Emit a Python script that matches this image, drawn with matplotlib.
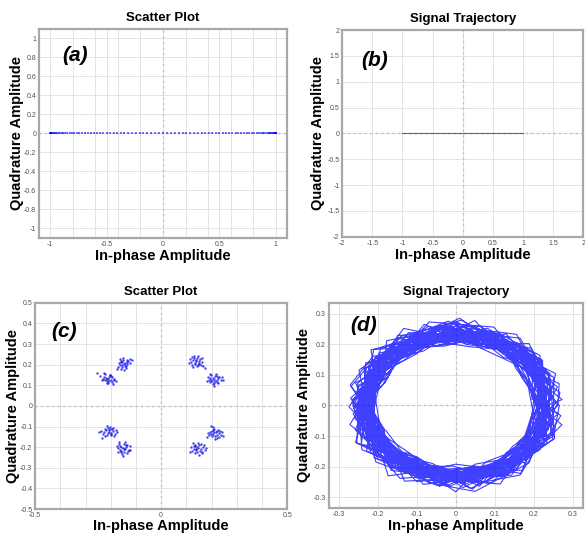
#!/usr/bin/env python3
"""Scatter plots and signal trajectories of an unmodulated and a QPSK-like signal."""

from __future__ import annotations

from pathlib import Path

import matplotlib

matplotlib.use("Agg")
import matplotlib.pyplot as plt
import numpy as np

# (a) scatter plot: samples lying on the in-phase axis
SCATTER_A_I = [
    1.000, 0.999, 0.998, 0.995, 0.990, 0.985, 0.978, 0.970, 0.961, 0.951,
    0.940, 0.927, 0.914, 0.899, 0.883, 0.866, 0.848, 0.829, 0.809, 0.788,
    0.766, 0.743, 0.719, 0.695, 0.669, 0.643, 0.616, 0.588, 0.559, 0.530,
    0.500, 0.469, 0.438, 0.407, 0.375, 0.342, 0.309, 0.276, 0.242, 0.208,
    0.174, 0.139, 0.105, 0.070, 0.035, 0.000,
    -0.035, -0.070, -0.105, -0.139, -0.174, -0.208, -0.242, -0.276, -0.309,
    -0.342, -0.375, -0.407, -0.438, -0.469, -0.500, -0.530, -0.559, -0.588,
    -0.616, -0.643, -0.669, -0.695, -0.719, -0.743, -0.766, -0.788, -0.809,
    -0.829, -0.848, -0.866, -0.883, -0.899, -0.914, -0.927, -0.940, -0.951,
    -0.961, -0.970, -0.978, -0.985, -0.990, -0.995, -0.998, -0.999, -1.000,
]
SCATTER_A_Q = [0.0] * len(SCATTER_A_I)

# (b) trajectory: a straight segment on the in-phase axis
TRAJ_B_I = [-1.0, 1.0]
TRAJ_B_Q = [0.0, 0.0]

# (c) scatter plot: eight clusters of received samples
SCATTER_C_I = [
    # upper left, inner
    -0.210, -0.225, -0.198, -0.216, -0.203, -0.231, -0.189, -0.221, -0.208,
    -0.194, -0.236, -0.213, -0.200, -0.227, -0.186, -0.218, -0.205, -0.242,
    -0.196, -0.211, -0.224, -0.179, -0.255, -0.202, -0.215, -0.192,
    # upper left, outer
    -0.147, -0.160, -0.136, -0.155, -0.141, -0.167, -0.130, -0.152, -0.144,
    -0.163, -0.125, -0.158, -0.139, -0.171, -0.150, -0.134, -0.154, -0.122,
    -0.161, -0.143, -0.174, -0.137, -0.156, -0.115, -0.148, -0.165,
    # upper right, outer
    0.138, 0.126, 0.149, 0.133, 0.155, 0.120, 0.144, 0.158, 0.129,
    0.141, 0.115, 0.152, 0.135, 0.163, 0.124, 0.147, 0.167, 0.131,
    0.110, 0.150, 0.137, 0.160, 0.127, 0.173, 0.122, 0.145,
    # upper right, inner
    0.208, 0.195, 0.220, 0.201, 0.215, 0.226, 0.189, 0.211, 0.198,
    0.223, 0.231, 0.204, 0.192, 0.217, 0.185, 0.213, 0.236, 0.206,
    0.221, 0.181, 0.241, 0.199, 0.227, 0.194, 0.210, 0.247,
    # lower left, inner
    -0.205, -0.218, -0.195, -0.212, -0.200, -0.226, -0.190, -0.210, -0.198,
    -0.221, -0.185, -0.232, -0.203, -0.215, -0.193, -0.237, -0.207, -0.188,
    -0.223, -0.181, -0.245, -0.197, -0.213, -0.177, -0.234, -0.201,
    # lower left, outer
    -0.152, -0.164, -0.142, -0.158, -0.137, -0.170, -0.147, -0.133, -0.161,
    -0.149, -0.166, -0.140, -0.155, -0.128, -0.172, -0.144, -0.125, -0.159,
    -0.136, -0.176, -0.151, -0.122, -0.163, -0.146, -0.168, -0.139,
    # lower right, inner
    0.211, 0.199, 0.223, 0.206, 0.220, 0.231, 0.195, 0.215, 0.203,
    0.226, 0.236, 0.209, 0.191, 0.222, 0.200, 0.217, 0.241, 0.187,
    0.228, 0.207, 0.205, 0.246, 0.182, 0.233, 0.212, 0.197,
    # lower right, outer
    0.148, 0.136, 0.159, 0.139, 0.152, 0.129, 0.164, 0.144, 0.155,
    0.133, 0.168, 0.124, 0.147, 0.160, 0.141, 0.119, 0.172, 0.135,
    0.156, 0.127, 0.177, 0.115, 0.150, 0.138, 0.163, 0.131,
]
SCATTER_C_Q = [
    0.133, 0.140, 0.128, 0.121, 0.149, 0.133, 0.126, 0.154, 0.139,
    0.117, 0.128, 0.110, 0.144, 0.160, 0.131, 0.137, 0.123, 0.145,
    0.139, 0.113, 0.125, 0.119, 0.162, 0.150, 0.130, 0.106,
    0.203, 0.215, 0.213, 0.190, 0.196, 0.208, 0.219, 0.224, 0.207,
    0.197, 0.227, 0.181, 0.186, 0.191, 0.233, 0.202, 0.212, 0.210,
    0.220, 0.193, 0.179, 0.222, 0.201, 0.225, 0.175, 0.229,
    0.218, 0.224, 0.209, 0.202, 0.227, 0.213, 0.235, 0.201, 0.231,
    0.194, 0.229, 0.220, 0.210, 0.212, 0.198, 0.240, 0.193, 0.243,
    0.207, 0.205, 0.225, 0.233, 0.190, 0.185, 0.237, 0.200,
    0.132, 0.138, 0.126, 0.119, 0.144, 0.135, 0.127, 0.113, 0.149,
    0.117, 0.141, 0.136, 0.114, 0.153, 0.142, 0.122, 0.128, 0.105,
    0.147, 0.119, 0.139, 0.125, 0.110, 0.157, 0.098, 0.124,
    -0.124, -0.117, -0.114, -0.133, -0.137, -0.127, -0.121, -0.107, -0.129,
    -0.111, -0.134, -0.138, -0.103, -0.142, -0.109, -0.120, -0.118, -0.144,
    -0.146, -0.117, -0.125, -0.139, -0.099, -0.127, -0.156, -0.112,
    -0.202, -0.194, -0.210, -0.217, -0.191, -0.205, -0.183, -0.219, -0.225,
    -0.208, -0.186, -0.199, -0.233, -0.212, -0.221, -0.177, -0.194, -0.197,
    -0.228, -0.192, -0.241, -0.215, -0.212, -0.223, -0.175, -0.189,
    -0.128, -0.137, -0.121, -0.117, -0.142, -0.133, -0.126, -0.148, -0.145,
    -0.115, -0.139, -0.110, -0.142, -0.154, -0.120, -0.125, -0.127, -0.130,
    -0.150, -0.136, -0.104, -0.144, -0.149, -0.119, -0.162, -0.099,
    -0.203, -0.195, -0.209, -0.215, -0.189, -0.207, -0.198, -0.223, -0.218,
    -0.187, -0.188, -0.218, -0.179, -0.227, -0.199, -0.197, -0.213, -0.230,
    -0.183, -0.179, -0.206, -0.224, -0.236, -0.209, -0.221, -0.192,
]

# (d) trajectory: vertices read as angle (degrees) and radius (x1000),
# one row per revolution
TRAJ_D_ANGLE_DEG = [
    0, 33, 58, 91, 118, 152, 177, 213, 238, 272, 299, 333,
    15, 49, 75, 109, 137, 164, 199, 225, 257, 289, 314, 349,
    10, 36, 70, 97, 131, 155, 190, 214, 250, 277, 310, 336,
    25, 51, 84, 112, 141, 171, 201, 232, 260, 295, 321, 354,
    2, 37, 63, 96, 122, 158, 181, 216, 246, 273, 306, 331,
    16, 42, 75, 101, 136, 161, 193, 222, 255, 281, 316, 342,
    26, 59, 85, 119, 145, 178, 205, 239, 264, 299, 325, 358,
    5, 30, 64, 90, 124, 149, 184, 210, 245, 269, 304, 329,
    17, 52, 77, 112, 136, 170, 197, 231, 256, 290, 318, 350,
    14, 40, 73, 99, 133, 158, 193, 219, 253, 278, 312, 339,
    22, 57, 83, 117, 143, 178, 202, 236, 264, 297, 322, 357,
    8, 34, 68, 93, 128, 152, 188, 213, 248, 274, 307, 334,
    13, 48, 72, 107, 134, 167, 193, 228, 252, 288, 313, 347,
    31, 57, 91, 116, 152, 176, 211, 236, 270, 296, 330, 356,
    358, 34, 59, 94, 119, 153, 178, 213, 239, 272, 299, 333,
    23, 49, 84, 108, 143, 168, 202, 229, 263, 289, 323, 348,
    6, 41, 66, 101, 127, 161, 186, 221, 247, 281, 307, 341,
    27, 52, 86, 111, 146, 172, 206, 231, 266, 292, 326, 351,
    11, 46, 72, 106, 131, 166, 192, 226, 251, 286, 312, 346,
    6, 31, 65, 90, 125, 151, 186, 210, 245, 271, 305, 331,
    16, 51, 76, 110, 136, 171, 195, 230, 255, 290, 316, 351,
    10, 35, 69, 94, 129, 155, 189, 215, 249, 274, 309, 335,
    24, 58, 84, 119, 143, 178, 203, 238, 265, 298, 323, 358,
    15, 40, 74, 99, 134, 160, 194, 219, 254, 280, 314, 339,
    18, 53, 78, 113, 139, 173, 197, 233, 258, 292, 318, 353,
    8, 33, 67, 92, 127, 153, 187, 212, 247, 273, 307, 332,
    26, 61, 86, 121, 146, 181, 207, 241, 266, 300, 326, 1,
    19, 44, 78, 103, 138, 164, 198, 223, 258, 284, 318, 343,
    11, 36, 73, 98, 132, 155, 190, 217, 253, 276, 311, 338,
    20, 55, 81, 116, 139, 174, 198, 233, 260, 295, 318, 354,
    5, 30, 67, 92, 126, 149, 184, 211, 247, 270, 305, 332,
    12, 47, 73, 108, 131, 166, 190, 225, 252, 287, 310, 346,
    29, 54, 91, 116, 150, 173, 208, 235, 271, 294, 329, 356,
    4, 39, 65, 100, 123, 158, 182, 217, 244, 279, 302, 338,
    20, 45, 82, 107, 141, 164, 199, 226, 262, 285, 320, 347,
    359, 34, 60, 95, 118, 153, 177, 212, 239, 274, 297, 333,
    27, 52, 89, 114, 148, 171, 206, 233, 269, 292, 327, 354,
    9, 44, 70, 105, 128, 163, 187, 222, 249, 284, 307, 343,
    22, 47, 84, 109, 143, 166, 201, 228, 264, 287, 322, 349,
    2, 37, 63, 98, 121, 156, 180, 215, 242, 277, 300, 336,
    18, 43, 80, 105, 139, 162, 197, 224, 260, 283, 318, 345,
    27, 62, 88, 123, 146, 181, 205, 240, 267, 302, 325, 1,
    9, 34, 71, 96, 130, 153, 188, 215, 251, 274, 309, 336,
    21, 56, 82, 117, 140, 175, 199, 234, 261, 296, 319, 355,
    14, 39, 76, 101, 135, 158, 193, 220, 256, 279, 314, 341,
    0, 35, 61, 96, 119, 154, 178, 213, 240, 275, 298, 334,
    28, 53, 90, 115, 149, 172, 207, 234, 270, 293, 328, 355,
    8, 43, 69, 104, 127, 162, 186, 221, 248, 283, 306, 342,
    23, 48, 85, 110, 144, 167, 202, 229, 265, 288, 323, 350,
    3, 38, 64, 99, 122, 157, 181, 216, 243, 278, 301, 337,
    19, 44, 81, 106, 140, 163, 198, 225, 261, 284, 319, 346,
    26, 61, 87, 122, 145, 180, 204, 239, 266, 301, 324, 0,
    15, 40, 77, 102, 136, 159, 194, 221, 257, 280, 315, 342,
    358, 33, 59, 94, 117, 152, 176, 211, 238, 273, 296, 332,
    26, 51, 88, 113, 147, 170, 205, 232, 268, 291, 326, 353,
    6, 41, 67, 102, 125, 160, 184, 219, 246, 281, 304, 340,
]
TRAJ_D_RADIUS_MILLI = [
    241, 228, 252, 219, 236, 261, 230, 214, 247, 233, 258, 225,
    232, 255, 221, 243, 209, 238, 266, 227, 240, 216, 249, 236,
    248, 217, 239, 262, 226, 233, 212, 251, 229, 244, 222, 257,
    226, 243, 231, 210, 254, 240, 223, 269, 235, 218, 246, 231,
    259, 234, 213, 246, 228, 219, 250, 237, 206, 255, 234, 242,
    220, 247, 238, 257, 215, 244, 232, 222, 263, 230, 211, 249,
    237, 212, 261, 229, 248, 226, 284, 240, 218, 245, 238, 227,
    245, 239, 224, 236, 266, 211, 243, 256, 231, 224, 262, 219,
    214, 258, 233, 248, 223, 252, 218, 234, 246, 270, 228, 238,
    253, 226, 245, 215, 240, 235, 259, 213, 238, 229, 247, 264,
    233, 244, 218, 267, 231, 207, 237, 249, 225, 256, 219, 241,
    224, 262, 236, 227, 252, 243, 214, 231, 268, 236, 250, 216,
    268, 231, 249, 239, 212, 258, 229, 245, 221, 213, 237, 252,
    239, 218, 227, 254, 245, 230, 262, 224, 250, 243, 226, 234,
    211, 250, 242, 220, 237, 264, 226, 253, 216, 239, 261, 228,
    247, 236, 213, 244, 260, 221, 251, 208, 242, 227, 236, 255,
    230, 264, 250, 232, 219, 246, 235, 266, 229, 252, 214, 243,
    256, 221, 238, 249, 234, 214, 245, 239, 260, 218, 253, 231,
    222, 242, 265, 212, 251, 237, 220, 247, 233, 262, 240, 211,
    244, 230, 221, 258, 227, 255, 241, 228, 214, 235, 229, 259,
    236, 257, 232, 241, 268, 224, 210, 259, 244, 221, 248, 226,
    217, 234, 255, 226, 243, 232, 263, 235, 226, 254, 232, 245,
    262, 213, 241, 236, 220, 266, 233, 218, 251, 240, 217, 238,
    229, 249, 222, 263, 239, 215, 248, 242, 235, 209, 258, 230,
    250, 238, 260, 218, 247, 241, 224, 288, 212, 248, 243, 222,
    235, 222, 230, 251, 213, 250, 239, 226, 257, 233, 224, 265,
    242, 267, 216, 239, 255, 228, 216, 252, 240, 265, 230, 237,
    218, 245, 244, 230, 236, 262, 251, 233, 223, 242, 255, 228,
    205, 262, 238, 196, 251, 274, 227, 243, 199, 258, 231, 270,
    268, 221, 195, 247, 279, 234, 201, 255, 266, 213, 244, 225,
    229, 197, 256, 272, 218, 203, 249, 281, 236, 192, 263, 240,
    252, 276, 214, 229, 198, 261, 237, 207, 271, 248, 202, 257,
    193, 240, 267, 211, 256, 226, 275, 219, 245, 281, 221, 206,
    274, 208, 230, 259, 237, 196, 262, 248, 210, 233, 269, 245,
    236, 251, 201, 277, 212, 268, 205, 230, 259, 198, 252, 280,
    212, 267, 246, 222, 285, 241, 218, 264, 195, 269, 239, 214,
    260, 199, 273, 235, 204, 250, 283, 197, 242, 226, 207, 265,
    198, 245, 224, 268, 243, 209, 233, 276, 253, 204, 278, 232,
    277, 230, 209, 203, 266, 279, 214, 240, 226, 262, 215, 197,
    223, 271, 259, 244, 196, 232, 258, 211, 280, 239, 256, 273,
    246, 204, 282, 215, 261, 216, 270, 252, 203, 271, 198, 237,
    203, 259, 236, 273, 229, 257, 197, 225, 264, 218, 247, 261,
    271, 215, 198, 250, 276, 207, 244, 267, 234, 208, 273, 221,
    231, 280, 254, 206, 217, 271, 226, 196, 257, 252, 230, 199,
    194, 238, 266, 262, 244, 220, 279, 236, 211, 277, 205, 268,
    266, 210, 219, 239, 199, 253, 209, 273, 247, 223, 262, 242,
    240, 275, 245, 196, 270, 237, 251, 215, 282, 200, 236, 213,
    209, 227, 274, 281, 225, 200, 265, 241, 219, 260, 281, 250,
    263, 253, 206, 228, 258, 276, 199, 262, 239, 235, 213, 203,
    218, 196, 261, 254, 208, 243, 274, 221, 201, 274, 251, 276,
    257, 269, 227, 201, 284, 212, 231, 208, 268, 211, 242, 228,
    201, 234, 279, 266, 240, 264, 256, 278, 227, 246, 200, 262,
    275, 206, 240, 219, 215, 229, 203, 244, 262, 285, 266, 235,
    226, 266, 213, 276, 254, 197, 267, 205, 246, 216, 226, 209,
    249, 221, 285, 241, 202, 260, 236, 257, 198, 249, 260, 272,
    197, 262, 252, 209, 267, 246, 213, 270, 253, 231, 210, 244,
]

BLUE = "#0000ff"
GRID = "#dedede"
FRAME = "#a8a8a8"
TICK_TEXT = "#505050"


def tick_text(value, _position):
    if abs(value) < 1e-9:
        return "0"
    return f"{value:g}"


def style_axes(axes, limit, grid_step, ticks, title, panel, panel_xy,
               xlabelpad=1, ylabelpad=2):
    axes.set_xticks(np.arange(-2.0, 2.0 + 1e-9, grid_step).round(3), minor=True)
    axes.set_yticks(np.arange(-2.0, 2.0 + 1e-9, grid_step).round(3), minor=True)
    axes.set_xticks(ticks[0])
    axes.set_yticks(ticks[1])
    axes.set_xlim(-limit[0], limit[0])
    axes.set_ylim(-limit[1], limit[1])
    axes.xaxis.set_major_formatter(plt.FuncFormatter(tick_text))
    axes.yaxis.set_major_formatter(plt.FuncFormatter(tick_text))
    axes.grid(True, which="both", color=GRID, linewidth=0.6)
    axes.set_axisbelow(True)
    axes.axhline(0, color="#c0c0c0", linestyle=(0, (1.5, 2.5)), linewidth=1.0, zorder=1)
    axes.axvline(0, color="#c0c0c0", linestyle=(0, (1.5, 2.5)), linewidth=1.0, zorder=1)
    axes.tick_params(which="both", length=0, labelsize=5, labelcolor=TICK_TEXT, pad=2)
    for spine in axes.spines.values():
        spine.set_color(FRAME)
        spine.set_linewidth(1.6)
    axes.set_title(title, fontsize=9.5, fontweight="bold", pad=6)
    axes.set_xlabel("In-phase Amplitude", fontsize=10.5, fontweight="bold",
                    labelpad=xlabelpad)
    axes.set_ylabel("Quadrature Amplitude", fontsize=10.5, fontweight="bold",
                    labelpad=ylabelpad)
    axes.text(
        panel_xy[0], panel_xy[1], panel, transform=axes.transAxes,
        fontsize=15, fontweight="bold", fontstyle="italic", va="center",
    )


def main() -> int:
    plt.rcParams["font.family"] = ["Liberation Sans", "DejaVu Sans"]

    figure = plt.figure(figsize=(5.85, 5.37), dpi=100)
    ax_a = figure.add_axes([0.0667, 0.557, 0.424, 0.389])
    ax_b = figure.add_axes([0.585, 0.559, 0.412, 0.385])
    ax_c = figure.add_axes([0.060, 0.052, 0.431, 0.384])
    ax_d = figure.add_axes([0.562, 0.054, 0.434, 0.382])

    style_axes(
        ax_a, (1.1, 1.1), 0.2,
        (np.arange(-1.0, 1.01, 0.5), np.arange(-1.0, 1.01, 0.2).round(2)),
        "Scatter Plot", "(a)", (0.095, 0.875), ylabelpad=0,
    )
    ax_a.scatter(SCATTER_A_I, SCATTER_A_Q, s=3, marker="s", color=BLUE,
                 alpha=0.55, linewidths=0, zorder=3)

    style_axes(
        ax_b, (2.0, 2.0), 0.5,
        (np.arange(-2.0, 2.01, 0.5), np.arange(-2.0, 2.01, 0.5)),
        "Signal Trajectory", "(b)", (0.08, 0.855),
    )
    ax_b.plot(TRAJ_B_I, TRAJ_B_Q, color=BLUE, linewidth=0.8, alpha=0.6, zorder=3)

    style_axes(
        ax_c, (0.5, 0.5), 0.1,
        (np.arange(-0.5, 0.51, 0.5), np.arange(-0.5, 0.51, 0.1).round(2)),
        "Scatter Plot", "(c)", (0.065, 0.86), xlabelpad=0, ylabelpad=0,
    )
    ax_c.scatter(SCATTER_C_I, SCATTER_C_Q, s=3, marker="o", color="#1a1ae6",
                 alpha=0.8, linewidths=0, zorder=3)

    style_axes(
        ax_d, (0.326, 0.335), 0.1,
        (np.arange(-0.3, 0.31, 0.1).round(2), np.arange(-0.3, 0.31, 0.1).round(2)),
        "Signal Trajectory", "(d)", (0.085, 0.89),
    )
    angle = np.deg2rad(np.asarray(TRAJ_D_ANGLE_DEG, dtype=float))
    radius = np.asarray(TRAJ_D_RADIUS_MILLI, dtype=float) / 1000.0
    ax_d.plot(radius * np.cos(angle), radius * np.sin(angle), color=BLUE,
              linewidth=0.8, alpha=0.75, zorder=3)

    output = Path("out.png")
    figure.savefig(output, dpi=100)
    plt.close(figure)
    print(f"Wrote {output}")
    return 0


if __name__ == "__main__":
    raise SystemExit(main())
